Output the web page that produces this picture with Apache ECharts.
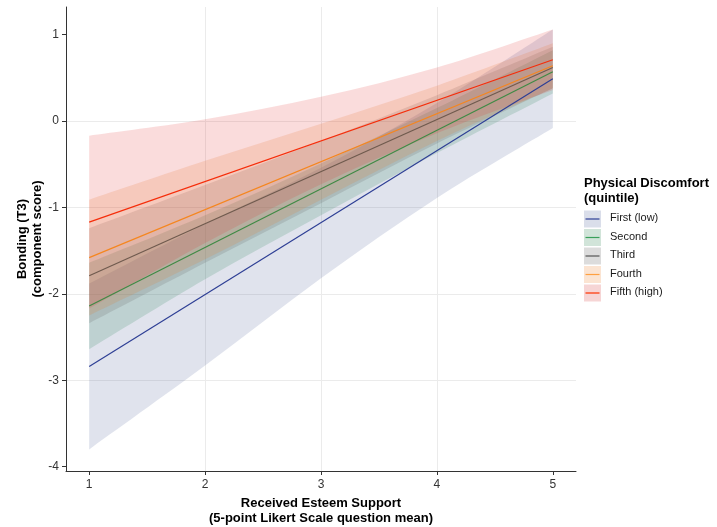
<!DOCTYPE html>
<html>
<head>
<meta charset="utf-8">
<script src="https://cdn.jsdelivr.net/npm/echarts@6/dist/echarts.min.js"></script>
<style>
  html, body { margin: 0; padding: 0; background: #fff; }
  #main { width: 717px; height: 527px; }
</style>
</head>
<body>
<div id="main"></div>
<script>
// x positions where the ribbons were read
const xs = [1, 2, 3, 4, 5];
const groups = ['First (low)', 'Second', 'Third', 'Fourth', 'Fifth (high)'];

// fitted lines (straight), value at x=1 and x=5
const lineStart = [-2.84, -2.14, -1.79, -1.58, -1.17];
const lineEnd = [0.49, 0.57, 0.62, 0.64, 0.71];

// confidence ribbons, lower / upper at xs
const lowFirst = [-3.80, -2.83, -1.82, -0.89, -0.08];
const upFirst = [-1.88, -1.19, -0.54, 0.21, 1.06];
const lowSecond = [-2.64, -1.83, -1.09, -0.37, 0.32];
const upSecond = [-1.64, -1.09, -0.49, 0.15, 0.82];
const lowThird = [-2.34, -1.64, -0.95, -0.26, 0.38];
const upThird = [-1.24, -0.74, -0.23, 0.30, 0.86];
const lowFourth = [-2.25, -1.60, -0.91, -0.23, 0.38];
const upFourth = [-0.91, -0.46, -0.03, 0.41, 0.90];
const lowFifth = [-2.17, -1.41, -0.73, -0.14, 0.36];
const upFifth = [-0.17, 0.02, 0.28, 0.62, 1.06];

const yTicks = [-4, -3, -2, -1, 0, 1];
const xTicks = [1, 2, 3, 4, 5];

const lows = [lowFirst, lowSecond, lowThird, lowFourth, lowFifth];
const ups = [upFirst, upSecond, upThird, upFourth, upFifth];

const lineColors = ['#2e3f95', '#3f8a45', '#6f5a4e', '#f5861f', '#f52d0a'];
const fillColors = ['#465a96', '#197a45', '#555555', '#e6781e', '#e03030'];
const keyFills = ['#dadeea', '#d1e4d9', '#dcdcdc', '#fbe4d2', '#f6d5d5'];
const keyLines = ['#2e3f95', '#3aa05a', '#555555', '#ffa040', '#ff3300'];

// smooth edge through pixel points (catmull-rom -> cubic bezier)
function curveTo(pts) {
    let d = '';
    for (let k = 0; k < pts.length - 1; k++) {
        const p0 = pts[Math.max(k - 1, 0)];
        const p1 = pts[k];
        const p2 = pts[k + 1];
        const p3 = pts[Math.min(k + 2, pts.length - 1)];
        const c1 = [p1[0] + (p2[0] - p0[0]) / 6, p1[1] + (p2[1] - p0[1]) / 6];
        const c2 = [p2[0] - (p3[0] - p1[0]) / 6, p2[1] - (p3[1] - p1[1]) / 6];
        d += ' C' + c1[0] + ',' + c1[1] + ' ' + c2[0] + ',' + c2[1] + ' ' + p2[0] + ',' + p2[1];
    }
    return d;
}

const chart = echarts.init(document.getElementById('main'));

const series = [];
// ribbons as one shape per group, points go through the axes
groups.forEach((g, i) => {
    series.push({
        name: g + ' band',
        type: 'custom',
        silent: true,
        clip: true,
        data: xs.map((x, k) => [x, lows[i][k], ups[i][k]]),
        encode: { x: 0, y: [1, 2] },
        renderItem: (params, api) => {
            if (params.dataIndex !== 0) return null;
            const top = xs.map((x, k) => api.coord([x, ups[i][k]]));
            const bot = xs.map((x, k) => api.coord([x, lows[i][k]])).reverse();
            const d = 'M' + top[0][0] + ',' + top[0][1] + curveTo(top) +
                ' L' + bot[0][0] + ',' + bot[0][1] + curveTo(bot) + ' Z';
            return {
                type: 'path',
                shape: { pathData: d },
                style: { fill: fillColors[i], opacity: 0.17 }
            };
        },
        z: 1
    });
});
// fitted lines
groups.forEach((g, i) => {
    series.push({
        name: g,
        type: 'line',
        symbol: 'none',
        silent: true,
        lineStyle: { color: lineColors[i], width: 1.2 },
        data: [[1, lineStart[i]], [5, lineEnd[i]]],
        z: 5
    });
});

// legend drawn by hand to look like the ggplot guide
const legendItems = [];
legendItems.push({
    type: 'text', left: 584, top: 176,
    style: { text: 'Physical Discomfort\n(quintile)', font: 'bold 13px "Liberation Sans", Arial', fill: '#000', lineHeight: 15 }
});
groups.forEach((g, i) => {
    const cy = 219 + i * 18.5;
    legendItems.push({
        type: 'rect', shape: { x: 584, y: cy - 8.5, width: 17, height: 17 },
        style: { fill: keyFills[i] }
    });
    legendItems.push({
        type: 'line', shape: { x1: 585.5, y1: cy, x2: 599.5, y2: cy },
        style: { stroke: keyLines[i], lineWidth: 1.2 }
    });
    legendItems.push({
        type: 'text', left: 610, top: cy - 6.5,
        style: { text: g, font: '11px "Liberation Sans", Arial', fill: '#1a1a1a' }
    });
});
// y axis title
legendItems.push({
    type: 'text', x: 30, y: 239, rotation: Math.PI / 2,
    style: {
        text: 'Bonding (T3)\n(component score)', font: 'bold 13px "Liberation Sans", Arial',
        fill: '#000', lineHeight: 15, align: 'center', verticalAlign: 'middle'
    }
});

chart.setOption({
    animation: false,
    backgroundColor: '#fff',
    textStyle: { fontFamily: '"Liberation Sans", Arial' },
    grid: { left: 66, right: 141, top: 7, bottom: 56, outerBoundsMode: 'none', containLabel: false },
    xAxis: {
        type: 'value',
        min: 0.8,
        max: 5.2,
        name: 'Received Esteem Support\n(5-point Likert Scale question mean)',
        nameLocation: 'middle',
        nameGap: 22,
        nameTextStyle: { fontWeight: 'bold', fontSize: 13, color: '#000', lineHeight: 15 },
        axisLine: { onZero: false, lineStyle: { color: '#333', width: 1 } },
        axisTick: { length: 4, lineStyle: { color: '#333' }, customValues: xTicks },
        axisLabel: { fontSize: 12, color: '#333', margin: 8, customValues: xTicks },
        splitLine: { show: true, showMinLine: false, showMaxLine: false, lineStyle: { color: '#ebebeb', width: 1 } }
    },
    yAxis: {
        type: 'value',
        min: -4.05,
        max: 1.32,
        axisLine: { show: true, lineStyle: { color: '#333', width: 1 } },
        axisTick: { show: true, length: 4, lineStyle: { color: '#333' }, customValues: yTicks },
        axisLabel: { fontSize: 12, color: '#333', margin: 7, customValues: yTicks },
        splitLine: { show: true, showMinLine: false, showMaxLine: false, lineStyle: { color: '#ebebeb', width: 1 } }
    },
    graphic: legendItems,
    series: series
});
</script>
</body>
</html>
